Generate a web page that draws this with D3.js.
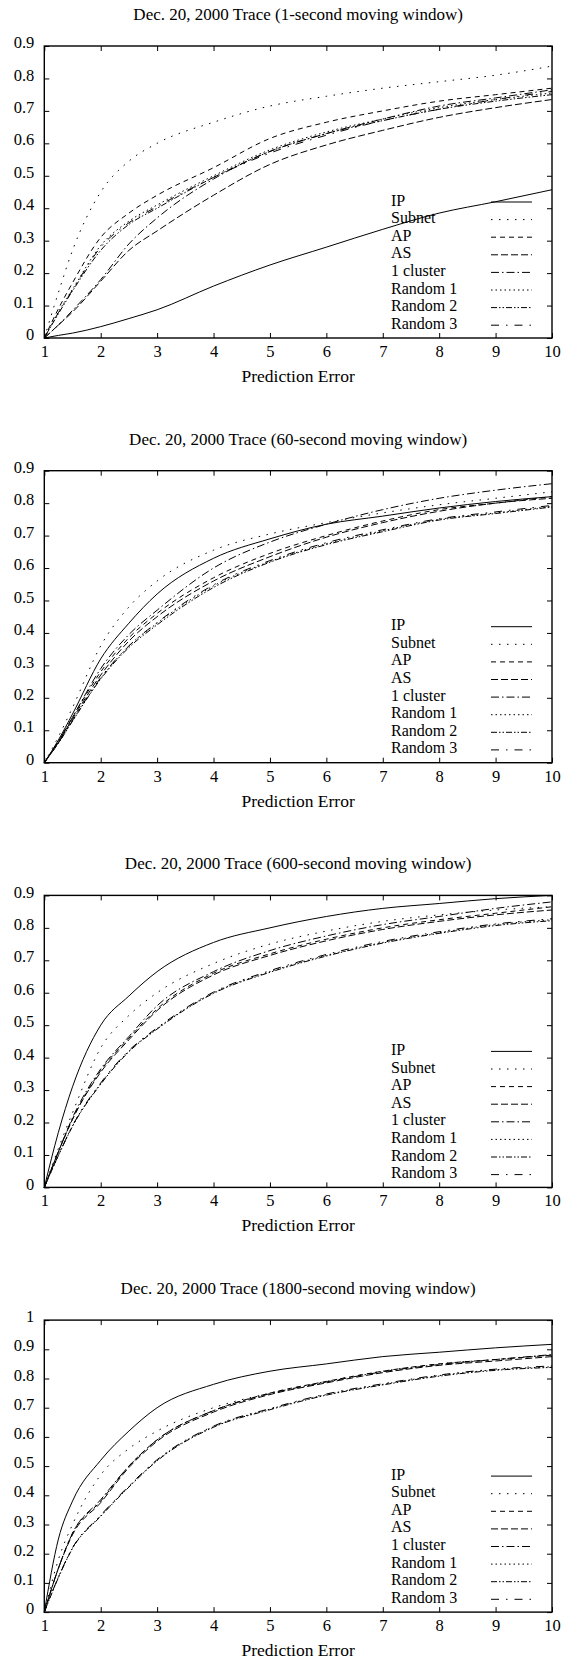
<!DOCTYPE html>
<html>
<head>
<meta charset="utf-8">
<script src="https://cdn.jsdelivr.net/npm/d3@7"></script>
<style>
  body { margin: 0; background: #fff; }
  svg { display: block; }
  text { font-family: "Liberation Serif", "Times New Roman", serif; fill: #000; }
  .axis path { display: none; }
  .axis line { stroke: #000; stroke-width: 1; }
  .title { font-size: 17px; }
  .xlabel { font-size: 17.5px; }
  .legend-text { font-size: 16px; }
</style>
</head>
<body>
<div class="chart"></div>
<script>
// datos: eje x comun (prediction error)
const xs = [1, 1.25, 1.5, 2, 2.5, 3, 4, 5, 6, 7, 8, 9, 10]
const seriesNames = ["IP", "Subnet", "AP", "AS", "1 cluster", "Random 1", "Random 2", "Random 3"]
const titles = [
  "Dec. 20, 2000 Trace (1-second moving window)",
  "Dec. 20, 2000 Trace (60-second moving window)",
  "Dec. 20, 2000 Trace (600-second moving window)",
  "Dec. 20, 2000 Trace (1800-second moving window)"
]
const yMaxes = [0.9, 0.9, 0.9, 1]
const yTicks09 = [0, 0.1, 0.2, 0.3, 0.4, 0.5, 0.6, 0.7, 0.8, 0.9]
const yTicks10 = [0, 0.1, 0.2, 0.3, 0.4, 0.5, 0.6, 0.7, 0.8, 0.9, 1]
const xTicks = [1, 2, 3, 4, 5, 6, 7, 8, 9, 10]

// un array por serie, en el orden de seriesNames
const win1 = [
  [0, 0.008, 0.015, 0.035, 0.06, 0.087, 0.16, 0.225, 0.28, 0.335, 0.385, 0.42, 0.457],
  [0, 0.14, 0.27, 0.45, 0.545, 0.60, 0.665, 0.715, 0.745, 0.77, 0.79, 0.81, 0.838],
  [0, 0.09, 0.17, 0.31, 0.385, 0.44, 0.525, 0.615, 0.665, 0.70, 0.73, 0.75, 0.77],
  [0, 0.04, 0.08, 0.175, 0.27, 0.33, 0.44, 0.535, 0.595, 0.64, 0.68, 0.71, 0.735],
  [0, 0.04, 0.085, 0.18, 0.29, 0.37, 0.49, 0.575, 0.63, 0.675, 0.715, 0.74, 0.765],
  [0, 0.08, 0.15, 0.285, 0.36, 0.41, 0.50, 0.58, 0.635, 0.675, 0.71, 0.735, 0.755],
  [0, 0.075, 0.145, 0.27, 0.35, 0.40, 0.495, 0.575, 0.63, 0.67, 0.705, 0.73, 0.75],
  [0, 0.078, 0.148, 0.28, 0.355, 0.405, 0.495, 0.57, 0.625, 0.67, 0.705, 0.735, 0.76]
]
const win60 = [
  [0, 0.07, 0.15, 0.32, 0.43, 0.52, 0.63, 0.69, 0.735, 0.76, 0.785, 0.805, 0.82],
  [0, 0.08, 0.17, 0.36, 0.48, 0.56, 0.655, 0.705, 0.74, 0.77, 0.795, 0.815, 0.835],
  [0, 0.065, 0.14, 0.28, 0.385, 0.46, 0.57, 0.645, 0.70, 0.745, 0.78, 0.80, 0.82],
  [0, 0.063, 0.135, 0.27, 0.375, 0.45, 0.56, 0.635, 0.695, 0.74, 0.775, 0.80, 0.815],
  [0, 0.066, 0.14, 0.29, 0.395, 0.47, 0.60, 0.68, 0.735, 0.78, 0.815, 0.84, 0.86],
  [0, 0.062, 0.13, 0.26, 0.36, 0.43, 0.545, 0.62, 0.675, 0.715, 0.75, 0.77, 0.79],
  [0, 0.06, 0.128, 0.258, 0.355, 0.425, 0.54, 0.618, 0.672, 0.712, 0.748, 0.768, 0.788],
  [0, 0.061, 0.13, 0.262, 0.36, 0.432, 0.548, 0.623, 0.678, 0.718, 0.752, 0.773, 0.793]
]
const win600 = [
  [0, 0.17, 0.31, 0.50, 0.59, 0.665, 0.755, 0.80, 0.835, 0.86, 0.875, 0.89, 0.90],
  [0, 0.12, 0.23, 0.43, 0.53, 0.60, 0.69, 0.75, 0.79, 0.82, 0.84, 0.855, 0.865],
  [0, 0.11, 0.21, 0.36, 0.46, 0.55, 0.66, 0.72, 0.765, 0.80, 0.825, 0.845, 0.865],
  [0, 0.11, 0.21, 0.355, 0.455, 0.545, 0.655, 0.715, 0.76, 0.795, 0.82, 0.84, 0.855],
  [0, 0.11, 0.215, 0.365, 0.465, 0.56, 0.665, 0.73, 0.775, 0.81, 0.835, 0.86, 0.88],
  [0, 0.10, 0.19, 0.32, 0.42, 0.49, 0.60, 0.665, 0.715, 0.755, 0.785, 0.81, 0.825],
  [0, 0.098, 0.188, 0.318, 0.418, 0.488, 0.598, 0.663, 0.713, 0.753, 0.783, 0.807, 0.822],
  [0, 0.099, 0.19, 0.322, 0.422, 0.492, 0.602, 0.668, 0.718, 0.758, 0.788, 0.812, 0.828]
]
const win1800 = [
  [0, 0.25, 0.38, 0.52, 0.62, 0.70, 0.78, 0.825, 0.85, 0.875, 0.89, 0.905, 0.917],
  [0, 0.18, 0.30, 0.47, 0.56, 0.62, 0.70, 0.75, 0.79, 0.825, 0.85, 0.865, 0.88],
  [0, 0.15, 0.27, 0.38, 0.50, 0.59, 0.69, 0.75, 0.79, 0.825, 0.85, 0.865, 0.88],
  [0, 0.15, 0.265, 0.375, 0.495, 0.585, 0.685, 0.745, 0.785, 0.82, 0.845, 0.86, 0.875],
  [0, 0.15, 0.27, 0.385, 0.50, 0.59, 0.69, 0.748, 0.788, 0.823, 0.848, 0.865, 0.882],
  [0, 0.12, 0.22, 0.33, 0.43, 0.52, 0.635, 0.695, 0.745, 0.78, 0.81, 0.83, 0.84],
  [0, 0.118, 0.218, 0.328, 0.428, 0.518, 0.633, 0.693, 0.743, 0.778, 0.808, 0.828, 0.838],
  [0, 0.12, 0.22, 0.332, 0.432, 0.522, 0.637, 0.697, 0.747, 0.782, 0.812, 0.832, 0.843]
]
const panels = [win1, win60, win600, win1800]

// estilos de linea tipo gnuplot
const dashes = [null, "1.5,6.5", "5,4", "7,3", "8,3,1.5,3", "1.5,3", "6,2,1.5,2,1.5,2", "8,7,1.5,7"]

const WIDTH = 563
const HEIGHT = 1659
const margin = { top: 46, left: 44.3, right: 11 }
const plotW = WIDTH - margin.left - margin.right
const plotH = 292
const panelStep = 424.7

const svg = d3.select(".chart")
  .append("svg")
  .attr("width", WIDTH)
  .attr("height", HEIGHT)

const xScale = d3.scaleLinear().domain([1, 10]).range([0, plotW])

panels.forEach((series, p) => {
  const g = svg.append("g")
    .attr("transform", `translate(${margin.left}, ${margin.top + p * panelStep})`)

  const yScale = d3.scaleLinear().domain([0, yMaxes[p]]).range([plotH, 0])
  const yTicks = yMaxes[p] === 1 ? yTicks10 : yTicks09

  // titulo
  g.append("text")
    .attr("class", "title")
    .attr("x", plotW / 2)
    .attr("y", -26)
    .style("text-anchor", "middle")
    .text(titles[p])

  // ejes (ticks hacia adentro, con espejo)
  const yAxisG = g.append("g").attr("class", "axis")
    .call(d3.axisLeft(yScale).tickValues(yTicks).tickSize(-5).tickPadding(10)
      .tickFormat(d => d3.format("")(+d.toFixed(1))))
  yAxisG.selectAll("text").attr("dy", "0.1em")
  g.append("g").attr("class", "axis")
    .attr("transform", `translate(${plotW}, 0)`)
    .call(d3.axisRight(yScale).tickValues(yTicks).tickSize(-5).tickFormat(""))
  const xAxisG = g.append("g").attr("class", "axis")
    .attr("transform", `translate(0, ${plotH})`)
    .call(d3.axisBottom(xScale).tickValues(xTicks).tickSize(-5).tickPadding(9).tickFormat(d3.format("d")))
  xAxisG.selectAll("text").attr("dy", "0.6em")
  g.append("g").attr("class", "axis")
    .call(d3.axisTop(xScale).tickValues(xTicks).tickSize(-5).tickFormat(""))

  g.selectAll(".axis").attr("font-family", null).attr("font-size", null)
  g.selectAll(".axis text").style("font-size", "16.5px")

  // marco
  g.append("rect")
    .attr("width", plotW)
    .attr("height", plotH)
    .attr("fill", "none")
    .attr("stroke", "#000")
    .attr("stroke-width", 1.4)

  // etiqueta eje x
  g.append("text")
    .attr("class", "xlabel")
    .attr("x", plotW / 2)
    .attr("y", plotH + 44)
    .style("text-anchor", "middle")
    .text("Prediction Error")

  const lineGenerator = d3.line()
    .x((d, i) => xScale(xs[i]))
    .y(d => yScale(d))
    .curve(d3.curveMonotoneX)

  g.selectAll(".line")
    .data(series)
    .join("path")
    .attr("class", "line")
    .attr("d", d => lineGenerator(d))
    .attr("fill", "none")
    .attr("stroke", "#000")
    .attr("stroke-width", 1)
    .attr("stroke-dasharray", (d, i) => dashes[i])

  // leyenda
  const legend = g.append("g").attr("transform", `translate(0, 156)`)
  seriesNames.forEach((name, i) => {
    const row = legend.append("g").attr("transform", `translate(0, ${i * 17.6})`)
    row.append("text")
      .attr("class", "legend-text")
      .attr("x", 391 - margin.left)
      .attr("y", 3.5)
      .text(name)
    row.append("line")
      .attr("x1", 491 - margin.left)
      .attr("x2", 532 - margin.left)
      .attr("y1", 0)
      .attr("y2", 0)
      .attr("stroke", "#000")
      .attr("stroke-width", 1)
      .attr("stroke-dasharray", dashes[i])
  })
})
</script>
</body>
</html>
